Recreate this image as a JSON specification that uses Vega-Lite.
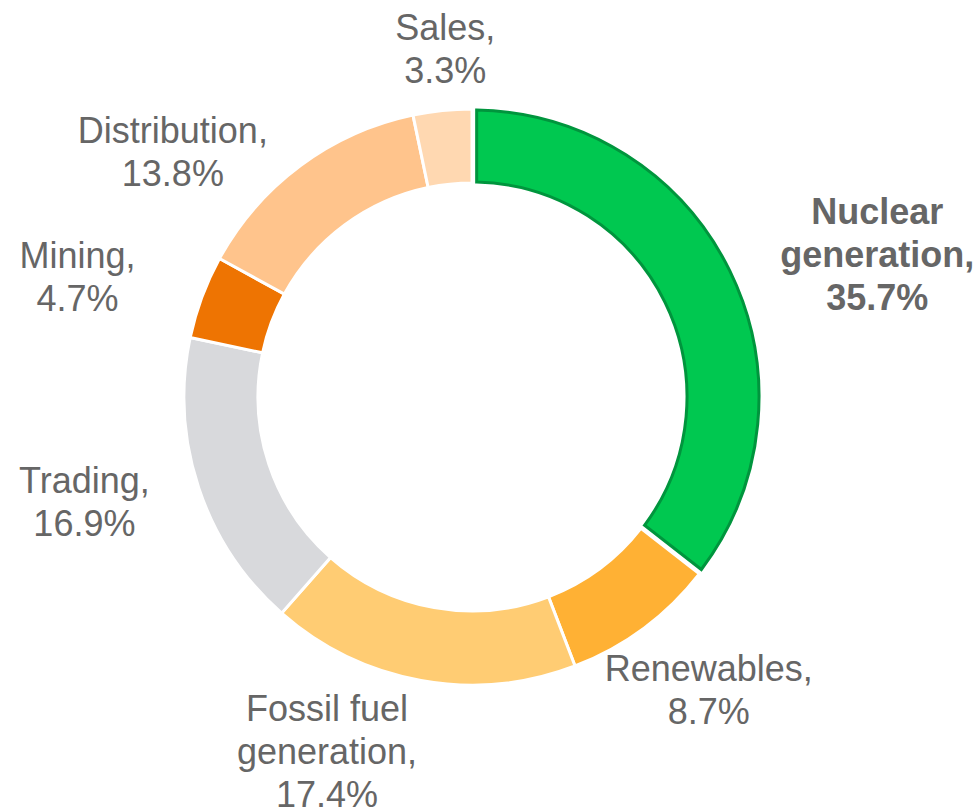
{
  "$schema": "https://vega.github.io/schema/vega-lite/v6.json",
  "width": 944,
  "height": 794,
  "autosize": {"type": "none"},
  "padding": {"left": 0, "top": 0, "right": 33, "bottom": 15},
  "background": "#ffffff",
  "config": {
    "view": {"stroke": null},
    "text": {"font": "Liberation Sans", "fontSize": 36, "lineHeight": 43, "lineBreak": "\n", "fill": "#666666", "align": "center", "baseline": "middle"}
  },
  "data": {
    "values": [
      {"order": 1, "cat": "Nuclear generation", "value": 35.7, "label": "Nuclear\ngeneration,\n35.7%"},
      {"order": 2, "cat": "Renewables", "value": 8.7, "label": "Renewables,\n8.7%"},
      {"order": 3, "cat": "Fossil fuel generation", "value": 17.4, "label": "Fossil fuel\ngeneration,\n17.4%"},
      {"order": 4, "cat": "Trading", "value": 16.9, "label": "Trading,\n16.9%"},
      {"order": 5, "cat": "Mining", "value": 4.7, "label": "Mining,\n4.7%"},
      {"order": 6, "cat": "Distribution", "value": 13.8, "label": "Distribution,\n13.8%"},
      {"order": 7, "cat": "Sales", "value": 3.3, "label": "Sales,\n3.3%"}
    ]
  },
  "transform": [
    {"stack": "value", "groupby": [], "sort": [{"field": "order", "order": "ascending"}], "as": ["v0", "v1"]},
    {"calculate": "(datum.v0 + datum.v1) / 2", "as": "mid"}
  ],
  "encoding": {
    "color": {
      "field": "cat", "type": "nominal", "legend": null,
      "scale": {
        "domain": ["Nuclear generation", "Renewables", "Fossil fuel generation", "Trading", "Mining", "Distribution", "Sales"],
        "range": ["#00C850", "#FFB134", "#FFCC73", "#D8D9DC", "#EE7402", "#FFC48C", "#FFD8B1"]
      }
    }
  },
  "layer": [
    {
      "transform": [{"filter": "datum.cat !== 'Nuclear generation'"}],
      "mark": {"type": "arc", "outerRadius": 288, "innerRadius": 214, "stroke": "#ffffff", "strokeWidth": 3},
      "encoding": {
        "theta": {"field": "v0", "type": "quantitative", "scale": {"domain": [0, 100.5], "nice": false}},
        "theta2": {"field": "v1"}
      }
    },
    {
      "transform": [{"filter": "datum.cat === 'Nuclear generation'"}],
      "mark": {"type": "arc", "outerRadius": 287, "innerRadius": 215, "padAngle": 0.026, "stroke": "#00953D", "strokeWidth": 3},
      "encoding": {
        "theta": {"field": "v0", "type": "quantitative"},
        "theta2": {"field": "v1"}
      }
    },
    {
      "transform": [{"filter": "datum.cat === 'Nuclear generation'"}],
      "mark": {"type": "text", "radius": 429, "thetaOffset": 0.12, "dy": -43, "fontWeight": "bold"},
      "encoding": {"theta": {"field": "mid", "type": "quantitative"}, "text": {"field": "label"}, "color": {"value": "#666666"}}
    },
    {
      "transform": [{"filter": "datum.cat === 'Renewables'"}],
      "mark": {"type": "text", "radius": 378, "thetaOffset": -0.039, "dy": -21.5},
      "encoding": {"theta": {"field": "mid", "type": "quantitative"}, "text": {"field": "label"}, "color": {"value": "#666666"}}
    },
    {
      "transform": [{"filter": "datum.cat === 'Fossil fuel generation'"}],
      "mark": {"type": "text", "radius": 384, "thetaOffset": 0.209, "dy": -43},
      "encoding": {"theta": {"field": "mid", "type": "quantitative"}, "text": {"field": "label"}, "color": {"value": "#666666"}}
    },
    {
      "transform": [{"filter": "datum.cat === 'Trading'"}],
      "mark": {"type": "text", "radius": 402, "thetaOffset": 0.052, "dy": -21.5},
      "encoding": {"theta": {"field": "mid", "type": "quantitative"}, "text": {"field": "label"}, "color": {"value": "#666666"}}
    },
    {
      "transform": [{"filter": "datum.cat === 'Mining'"}],
      "mark": {"type": "text", "radius": 412, "thetaOffset": -0.062, "dy": -21.5},
      "encoding": {"theta": {"field": "mid", "type": "quantitative"}, "text": {"field": "label"}, "color": {"value": "#666666"}}
    },
    {
      "transform": [{"filter": "datum.cat === 'Distribution'"}],
      "mark": {"type": "text", "radius": 386, "thetaOffset": -0.249, "dy": -21.5},
      "encoding": {"theta": {"field": "mid", "type": "quantitative"}, "text": {"field": "label"}, "color": {"value": "#666666"}}
    },
    {
      "transform": [{"filter": "datum.cat === 'Sales'"}],
      "mark": {"type": "text", "radius": 348, "thetaOffset": 0.026, "dy": -21.5},
      "encoding": {"theta": {"field": "mid", "type": "quantitative"}, "text": {"field": "label"}, "color": {"value": "#666666"}}
    }
  ]
}
